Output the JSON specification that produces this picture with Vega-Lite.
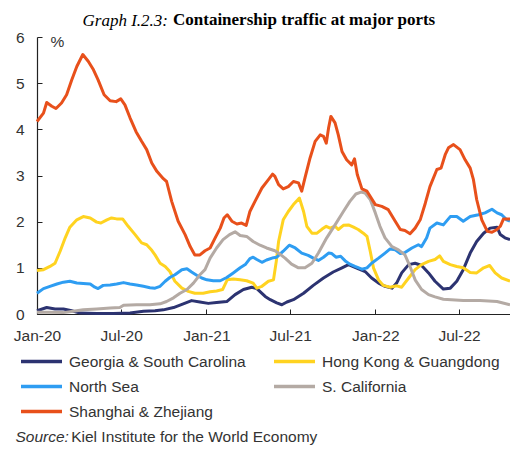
{
  "$schema": "https://vega.github.io/schema/vega-lite/v6.json",
  "width": 473,
  "height": 277,
  "autosize": {"type": "none"},
  "padding": {"left": 37, "top": 37, "right": 0, "bottom": 135},
  "background": "white",
  "config": {"view": {"stroke": null}, "axis": {"grid": false}},
  "title": {"text": "Containership traffic at major ports", "font": "Liberation Serif", "fontSize": 17, "fontWeight": "bold", "color": "#000000", "anchor": "start", "frame": "group", "dx": 136, "dy": 22},
  "datasets": {
    "ports": [
      {"date":"2020-01-01","port":"Georgia & South Carolina","value":0.07},
      {"date":"2020-01-22","port":"Georgia & South Carolina","value":0.14},
      {"date":"2020-02-09","port":"Georgia & South Carolina","value":0.11},
      {"date":"2020-02-27","port":"Georgia & South Carolina","value":0.11},
      {"date":"2020-03-16","port":"Georgia & South Carolina","value":0.07},
      {"date":"2020-04-03","port":"Georgia & South Carolina","value":0.02},
      {"date":"2020-05-09","port":"Georgia & South Carolina","value":0.01},
      {"date":"2020-06-14","port":"Georgia & South Carolina","value":0.01},
      {"date":"2020-07-20","port":"Georgia & South Carolina","value":0.02},
      {"date":"2020-08-18","port":"Georgia & South Carolina","value":0.06},
      {"date":"2020-09-12","port":"Georgia & South Carolina","value":0.07},
      {"date":"2020-09-30","port":"Georgia & South Carolina","value":0.09},
      {"date":"2020-10-22","port":"Georgia & South Carolina","value":0.14},
      {"date":"2020-11-12","port":"Georgia & South Carolina","value":0.22},
      {"date":"2020-11-30","port":"Georgia & South Carolina","value":0.29},
      {"date":"2020-12-18","port":"Georgia & South Carolina","value":0.26},
      {"date":"2021-01-05","port":"Georgia & South Carolina","value":0.23},
      {"date":"2021-01-23","port":"Georgia & South Carolina","value":0.25},
      {"date":"2021-02-14","port":"Georgia & South Carolina","value":0.27},
      {"date":"2021-03-04","port":"Georgia & South Carolina","value":0.42},
      {"date":"2021-03-22","port":"Georgia & South Carolina","value":0.53},
      {"date":"2021-04-09","port":"Georgia & South Carolina","value":0.58},
      {"date":"2021-04-20","port":"Georgia & South Carolina","value":0.55},
      {"date":"2021-05-08","port":"Georgia & South Carolina","value":0.38},
      {"date":"2021-05-19","port":"Georgia & South Carolina","value":0.31},
      {"date":"2021-06-02","port":"Georgia & South Carolina","value":0.24},
      {"date":"2021-06-13","port":"Georgia & South Carolina","value":0.20},
      {"date":"2021-06-24","port":"Georgia & South Carolina","value":0.26},
      {"date":"2021-07-08","port":"Georgia & South Carolina","value":0.31},
      {"date":"2021-07-30","port":"Georgia & South Carolina","value":0.45},
      {"date":"2021-08-20","port":"Georgia & South Carolina","value":0.62},
      {"date":"2021-09-11","port":"Georgia & South Carolina","value":0.78},
      {"date":"2021-10-02","port":"Georgia & South Carolina","value":0.91},
      {"date":"2021-10-21","port":"Georgia & South Carolina","value":1.00},
      {"date":"2021-11-04","port":"Georgia & South Carolina","value":1.07},
      {"date":"2021-11-18","port":"Georgia & South Carolina","value":1.01},
      {"date":"2021-12-10","port":"Georgia & South Carolina","value":0.92},
      {"date":"2021-12-24","port":"Georgia & South Carolina","value":0.78},
      {"date":"2022-01-08","port":"Georgia & South Carolina","value":0.67},
      {"date":"2022-01-22","port":"Georgia & South Carolina","value":0.60},
      {"date":"2022-02-06","port":"Georgia & South Carolina","value":0.56},
      {"date":"2022-02-16","port":"Georgia & South Carolina","value":0.67},
      {"date":"2022-02-27","port":"Georgia & South Carolina","value":0.89},
      {"date":"2022-03-14","port":"Georgia & South Carolina","value":1.07},
      {"date":"2022-03-28","port":"Georgia & South Carolina","value":1.10},
      {"date":"2022-04-11","port":"Georgia & South Carolina","value":1.05},
      {"date":"2022-04-26","port":"Georgia & South Carolina","value":0.89},
      {"date":"2022-05-10","port":"Georgia & South Carolina","value":0.71},
      {"date":"2022-05-28","port":"Georgia & South Carolina","value":0.54},
      {"date":"2022-06-12","port":"Georgia & South Carolina","value":0.56},
      {"date":"2022-06-26","port":"Georgia & South Carolina","value":0.71},
      {"date":"2022-07-10","port":"Georgia & South Carolina","value":0.96},
      {"date":"2022-07-25","port":"Georgia & South Carolina","value":1.32},
      {"date":"2022-08-08","port":"Georgia & South Carolina","value":1.57},
      {"date":"2022-08-23","port":"Georgia & South Carolina","value":1.75},
      {"date":"2022-09-06","port":"Georgia & South Carolina","value":1.86},
      {"date":"2022-09-21","port":"Georgia & South Carolina","value":1.88},
      {"date":"2022-09-28","port":"Georgia & South Carolina","value":1.72},
      {"date":"2022-10-08","port":"Georgia & South Carolina","value":1.65},
      {"date":"2022-10-19","port":"Georgia & South Carolina","value":1.61},

      {"date":"2020-01-01","port":"Hong Kong & Guangdong","value":0.94},
      {"date":"2020-01-15","port":"Hong Kong & Guangdong","value":0.96},
      {"date":"2020-01-29","port":"Hong Kong & Guangdong","value":1.03},
      {"date":"2020-02-09","port":"Hong Kong & Guangdong","value":1.10},
      {"date":"2020-02-20","port":"Hong Kong & Guangdong","value":1.36},
      {"date":"2020-03-02","port":"Hong Kong & Guangdong","value":1.65},
      {"date":"2020-03-12","port":"Hong Kong & Guangdong","value":1.88},
      {"date":"2020-03-27","port":"Hong Kong & Guangdong","value":2.04},
      {"date":"2020-04-10","port":"Hong Kong & Guangdong","value":2.11},
      {"date":"2020-04-25","port":"Hong Kong & Guangdong","value":2.08},
      {"date":"2020-05-09","port":"Hong Kong & Guangdong","value":1.99},
      {"date":"2020-05-18","port":"Hong Kong & Guangdong","value":1.97},
      {"date":"2020-05-31","port":"Hong Kong & Guangdong","value":2.04},
      {"date":"2020-06-10","port":"Hong Kong & Guangdong","value":2.08},
      {"date":"2020-06-21","port":"Hong Kong & Guangdong","value":2.06},
      {"date":"2020-07-04","port":"Hong Kong & Guangdong","value":2.06},
      {"date":"2020-07-16","port":"Hong Kong & Guangdong","value":1.90},
      {"date":"2020-07-31","port":"Hong Kong & Guangdong","value":1.72},
      {"date":"2020-08-14","port":"Hong Kong & Guangdong","value":1.54},
      {"date":"2020-08-25","port":"Hong Kong & Guangdong","value":1.50},
      {"date":"2020-09-05","port":"Hong Kong & Guangdong","value":1.38},
      {"date":"2020-09-12","port":"Hong Kong & Guangdong","value":1.28},
      {"date":"2020-09-23","port":"Hong Kong & Guangdong","value":1.10},
      {"date":"2020-10-04","port":"Hong Kong & Guangdong","value":1.03},
      {"date":"2020-10-14","port":"Hong Kong & Guangdong","value":0.92},
      {"date":"2020-10-25","port":"Hong Kong & Guangdong","value":0.71},
      {"date":"2020-11-09","port":"Hong Kong & Guangdong","value":0.56},
      {"date":"2020-11-23","port":"Hong Kong & Guangdong","value":0.49},
      {"date":"2020-12-07","port":"Hong Kong & Guangdong","value":0.45},
      {"date":"2020-12-25","port":"Hong Kong & Guangdong","value":0.45},
      {"date":"2021-01-09","port":"Hong Kong & Guangdong","value":0.48},
      {"date":"2021-01-23","port":"Hong Kong & Guangdong","value":0.50},
      {"date":"2021-02-05","port":"Hong Kong & Guangdong","value":0.53},
      {"date":"2021-02-15","port":"Hong Kong & Guangdong","value":0.74},
      {"date":"2021-02-28","port":"Hong Kong & Guangdong","value":0.76},
      {"date":"2021-03-15","port":"Hong Kong & Guangdong","value":0.74},
      {"date":"2021-03-29","port":"Hong Kong & Guangdong","value":0.72},
      {"date":"2021-04-12","port":"Hong Kong & Guangdong","value":0.67},
      {"date":"2021-04-20","port":"Hong Kong & Guangdong","value":0.56},
      {"date":"2021-05-01","port":"Hong Kong & Guangdong","value":0.60},
      {"date":"2021-05-15","port":"Hong Kong & Guangdong","value":0.71},
      {"date":"2021-05-26","port":"Hong Kong & Guangdong","value":0.74},
      {"date":"2021-06-01","port":"Hong Kong & Guangdong","value":1.14},
      {"date":"2021-06-06","port":"Hong Kong & Guangdong","value":1.57},
      {"date":"2021-06-16","port":"Hong Kong & Guangdong","value":2.04},
      {"date":"2021-06-27","port":"Hong Kong & Guangdong","value":2.22},
      {"date":"2021-07-08","port":"Hong Kong & Guangdong","value":2.37},
      {"date":"2021-07-21","port":"Hong Kong & Guangdong","value":2.51},
      {"date":"2021-07-30","port":"Hong Kong & Guangdong","value":2.22},
      {"date":"2021-08-06","port":"Hong Kong & Guangdong","value":1.90},
      {"date":"2021-08-17","port":"Hong Kong & Guangdong","value":1.75},
      {"date":"2021-08-28","port":"Hong Kong & Guangdong","value":1.75},
      {"date":"2021-09-08","port":"Hong Kong & Guangdong","value":1.84},
      {"date":"2021-09-17","port":"Hong Kong & Guangdong","value":1.90},
      {"date":"2021-09-25","port":"Hong Kong & Guangdong","value":1.86},
      {"date":"2021-10-06","port":"Hong Kong & Guangdong","value":1.90},
      {"date":"2021-10-13","port":"Hong Kong & Guangdong","value":1.83},
      {"date":"2021-10-24","port":"Hong Kong & Guangdong","value":1.92},
      {"date":"2021-11-04","port":"Hong Kong & Guangdong","value":1.93},
      {"date":"2021-11-15","port":"Hong Kong & Guangdong","value":1.88},
      {"date":"2021-11-25","port":"Hong Kong & Guangdong","value":1.83},
      {"date":"2021-12-06","port":"Hong Kong & Guangdong","value":1.75},
      {"date":"2021-12-14","port":"Hong Kong & Guangdong","value":1.68},
      {"date":"2021-12-21","port":"Hong Kong & Guangdong","value":1.36},
      {"date":"2021-12-28","port":"Hong Kong & Guangdong","value":1.00},
      {"date":"2022-01-08","port":"Hong Kong & Guangdong","value":0.74},
      {"date":"2022-01-18","port":"Hong Kong & Guangdong","value":0.62},
      {"date":"2022-02-02","port":"Hong Kong & Guangdong","value":0.58},
      {"date":"2022-02-16","port":"Hong Kong & Guangdong","value":0.61},
      {"date":"2022-02-27","port":"Hong Kong & Guangdong","value":0.58},
      {"date":"2022-03-14","port":"Hong Kong & Guangdong","value":0.78},
      {"date":"2022-03-28","port":"Hong Kong & Guangdong","value":0.96},
      {"date":"2022-04-11","port":"Hong Kong & Guangdong","value":1.07},
      {"date":"2022-04-26","port":"Hong Kong & Guangdong","value":1.14},
      {"date":"2022-05-10","port":"Hong Kong & Guangdong","value":1.18},
      {"date":"2022-05-20","port":"Hong Kong & Guangdong","value":1.26},
      {"date":"2022-05-28","port":"Hong Kong & Guangdong","value":1.14},
      {"date":"2022-06-12","port":"Hong Kong & Guangdong","value":1.07},
      {"date":"2022-06-26","port":"Hong Kong & Guangdong","value":1.03},
      {"date":"2022-07-10","port":"Hong Kong & Guangdong","value":1.00},
      {"date":"2022-07-25","port":"Hong Kong & Guangdong","value":0.90},
      {"date":"2022-08-08","port":"Hong Kong & Guangdong","value":0.89},
      {"date":"2022-08-23","port":"Hong Kong & Guangdong","value":1.00},
      {"date":"2022-09-05","port":"Hong Kong & Guangdong","value":1.05},
      {"date":"2022-09-17","port":"Hong Kong & Guangdong","value":0.89},
      {"date":"2022-10-01","port":"Hong Kong & Guangdong","value":0.78},
      {"date":"2022-10-19","port":"Hong Kong & Guangdong","value":0.71},

      {"date":"2020-01-01","port":"North Sea","value":0.45},
      {"date":"2020-01-15","port":"North Sea","value":0.55},
      {"date":"2020-01-29","port":"North Sea","value":0.60},
      {"date":"2020-02-13","port":"North Sea","value":0.65},
      {"date":"2020-02-27","port":"North Sea","value":0.69},
      {"date":"2020-03-12","port":"North Sea","value":0.71},
      {"date":"2020-03-27","port":"North Sea","value":0.67},
      {"date":"2020-04-10","port":"North Sea","value":0.66},
      {"date":"2020-04-25","port":"North Sea","value":0.65},
      {"date":"2020-05-05","port":"North Sea","value":0.58},
      {"date":"2020-05-12","port":"North Sea","value":0.55},
      {"date":"2020-05-23","port":"North Sea","value":0.62},
      {"date":"2020-06-07","port":"North Sea","value":0.63},
      {"date":"2020-06-21","port":"North Sea","value":0.65},
      {"date":"2020-07-06","port":"North Sea","value":0.68},
      {"date":"2020-07-20","port":"North Sea","value":0.65},
      {"date":"2020-08-03","port":"North Sea","value":0.63},
      {"date":"2020-08-18","port":"North Sea","value":0.60},
      {"date":"2020-09-01","port":"North Sea","value":0.57},
      {"date":"2020-09-12","port":"North Sea","value":0.56},
      {"date":"2020-09-23","port":"North Sea","value":0.60},
      {"date":"2020-10-04","port":"North Sea","value":0.71},
      {"date":"2020-10-14","port":"North Sea","value":0.79},
      {"date":"2020-10-25","port":"North Sea","value":0.85},
      {"date":"2020-11-09","port":"North Sea","value":0.96},
      {"date":"2020-11-20","port":"North Sea","value":0.98},
      {"date":"2020-11-30","port":"North Sea","value":0.91},
      {"date":"2020-12-11","port":"North Sea","value":0.84},
      {"date":"2020-12-22","port":"North Sea","value":0.78},
      {"date":"2021-01-02","port":"North Sea","value":0.74},
      {"date":"2021-01-16","port":"North Sea","value":0.72},
      {"date":"2021-01-31","port":"North Sea","value":0.72},
      {"date":"2021-02-14","port":"North Sea","value":0.79},
      {"date":"2021-02-28","port":"North Sea","value":0.89},
      {"date":"2021-03-15","port":"North Sea","value":1.00},
      {"date":"2021-03-26","port":"North Sea","value":1.07},
      {"date":"2021-04-05","port":"North Sea","value":1.20},
      {"date":"2021-04-12","port":"North Sea","value":1.23},
      {"date":"2021-04-20","port":"North Sea","value":1.18},
      {"date":"2021-05-01","port":"North Sea","value":1.12},
      {"date":"2021-05-11","port":"North Sea","value":1.17},
      {"date":"2021-05-26","port":"North Sea","value":1.22},
      {"date":"2021-06-02","port":"North Sea","value":1.23},
      {"date":"2021-06-16","port":"North Sea","value":1.36},
      {"date":"2021-06-29","port":"North Sea","value":1.49},
      {"date":"2021-07-12","port":"North Sea","value":1.43},
      {"date":"2021-07-26","port":"North Sea","value":1.32},
      {"date":"2021-08-09","port":"North Sea","value":1.27},
      {"date":"2021-08-20","port":"North Sea","value":1.21},
      {"date":"2021-08-31","port":"North Sea","value":1.16},
      {"date":"2021-09-11","port":"North Sea","value":1.23},
      {"date":"2021-09-22","port":"North Sea","value":1.32},
      {"date":"2021-09-29","port":"North Sea","value":1.31},
      {"date":"2021-10-08","port":"North Sea","value":1.23},
      {"date":"2021-10-18","port":"North Sea","value":1.25},
      {"date":"2021-10-28","port":"North Sea","value":1.15},
      {"date":"2021-11-07","port":"North Sea","value":1.08},
      {"date":"2021-11-18","port":"North Sea","value":1.03},
      {"date":"2021-12-03","port":"North Sea","value":0.97},
      {"date":"2021-12-14","port":"North Sea","value":1.00},
      {"date":"2021-12-24","port":"North Sea","value":1.10},
      {"date":"2022-01-08","port":"North Sea","value":1.21},
      {"date":"2022-01-22","port":"North Sea","value":1.32},
      {"date":"2022-02-02","port":"North Sea","value":1.41},
      {"date":"2022-02-13","port":"North Sea","value":1.39},
      {"date":"2022-02-24","port":"North Sea","value":1.31},
      {"date":"2022-03-06","port":"North Sea","value":1.33},
      {"date":"2022-03-21","port":"North Sea","value":1.43},
      {"date":"2022-04-04","port":"North Sea","value":1.50},
      {"date":"2022-04-11","port":"North Sea","value":1.46},
      {"date":"2022-04-22","port":"North Sea","value":1.65},
      {"date":"2022-04-29","port":"North Sea","value":1.86},
      {"date":"2022-05-14","port":"North Sea","value":1.97},
      {"date":"2022-05-28","port":"North Sea","value":1.93},
      {"date":"2022-06-12","port":"North Sea","value":2.11},
      {"date":"2022-06-26","port":"North Sea","value":2.11},
      {"date":"2022-07-10","port":"North Sea","value":2.01},
      {"date":"2022-07-25","port":"North Sea","value":2.11},
      {"date":"2022-08-12","port":"North Sea","value":2.15},
      {"date":"2022-08-26","port":"North Sea","value":2.19},
      {"date":"2022-09-10","port":"North Sea","value":2.27},
      {"date":"2022-09-21","port":"North Sea","value":2.19},
      {"date":"2022-10-01","port":"North Sea","value":2.15},
      {"date":"2022-10-12","port":"North Sea","value":2.04},
      {"date":"2022-10-19","port":"North Sea","value":2.01},

      {"date":"2020-01-01","port":"S. California","value":0.04},
      {"date":"2020-01-29","port":"S. California","value":0.04},
      {"date":"2020-02-27","port":"S. California","value":0.03},
      {"date":"2020-03-19","port":"S. California","value":0.06},
      {"date":"2020-04-10","port":"S. California","value":0.09},
      {"date":"2020-05-09","port":"S. California","value":0.11},
      {"date":"2020-06-07","port":"S. California","value":0.13},
      {"date":"2020-06-28","port":"S. California","value":0.14},
      {"date":"2020-07-06","port":"S. California","value":0.19},
      {"date":"2020-08-03","port":"S. California","value":0.20},
      {"date":"2020-09-01","port":"S. California","value":0.20},
      {"date":"2020-09-23","port":"S. California","value":0.22},
      {"date":"2020-10-07","port":"S. California","value":0.27},
      {"date":"2020-10-22","port":"S. California","value":0.35},
      {"date":"2020-11-05","port":"S. California","value":0.45},
      {"date":"2020-11-20","port":"S. California","value":0.53},
      {"date":"2020-12-04","port":"S. California","value":0.67},
      {"date":"2020-12-18","port":"S. California","value":0.85},
      {"date":"2020-12-29","port":"S. California","value":0.96},
      {"date":"2021-01-09","port":"S. California","value":1.21},
      {"date":"2021-01-23","port":"S. California","value":1.43},
      {"date":"2021-02-06","port":"S. California","value":1.61},
      {"date":"2021-02-20","port":"S. California","value":1.72},
      {"date":"2021-03-04","port":"S. California","value":1.78},
      {"date":"2021-03-15","port":"S. California","value":1.70},
      {"date":"2021-03-29","port":"S. California","value":1.68},
      {"date":"2021-04-12","port":"S. California","value":1.57},
      {"date":"2021-04-27","port":"S. California","value":1.49},
      {"date":"2021-05-11","port":"S. California","value":1.43},
      {"date":"2021-05-29","port":"S. California","value":1.37},
      {"date":"2021-06-06","port":"S. California","value":1.32},
      {"date":"2021-06-20","port":"S. California","value":1.21},
      {"date":"2021-07-04","port":"S. California","value":1.08},
      {"date":"2021-07-19","port":"S. California","value":1.00},
      {"date":"2021-08-02","port":"S. California","value":1.00},
      {"date":"2021-08-17","port":"S. California","value":1.10},
      {"date":"2021-08-31","port":"S. California","value":1.32},
      {"date":"2021-09-18","port":"S. California","value":1.65},
      {"date":"2021-10-06","port":"S. California","value":1.93},
      {"date":"2021-10-24","port":"S. California","value":2.22},
      {"date":"2021-11-07","port":"S. California","value":2.44},
      {"date":"2021-11-20","port":"S. California","value":2.60},
      {"date":"2021-12-01","port":"S. California","value":2.64},
      {"date":"2021-12-10","port":"S. California","value":2.62},
      {"date":"2021-12-21","port":"S. California","value":2.48},
      {"date":"2022-01-01","port":"S. California","value":2.19},
      {"date":"2022-01-11","port":"S. California","value":1.90},
      {"date":"2022-01-22","port":"S. California","value":1.65},
      {"date":"2022-02-06","port":"S. California","value":1.46},
      {"date":"2022-02-20","port":"S. California","value":1.39},
      {"date":"2022-03-06","port":"S. California","value":1.28},
      {"date":"2022-03-17","port":"S. California","value":1.03},
      {"date":"2022-03-28","port":"S. California","value":0.74},
      {"date":"2022-04-11","port":"S. California","value":0.53},
      {"date":"2022-04-26","port":"S. California","value":0.42},
      {"date":"2022-05-10","port":"S. California","value":0.37},
      {"date":"2022-05-28","port":"S. California","value":0.32},
      {"date":"2022-07-10","port":"S. California","value":0.29},
      {"date":"2022-08-15","port":"S. California","value":0.29},
      {"date":"2022-09-21","port":"S. California","value":0.27},
      {"date":"2022-10-19","port":"S. California","value":0.20},

      {"date":"2020-01-01","port":"Shanghai & Zhejiang","value":4.17},
      {"date":"2020-01-15","port":"Shanghai & Zhejiang","value":4.35},
      {"date":"2020-01-22","port":"Shanghai & Zhejiang","value":4.58},
      {"date":"2020-02-02","port":"Shanghai & Zhejiang","value":4.50},
      {"date":"2020-02-11","port":"Shanghai & Zhejiang","value":4.45},
      {"date":"2020-02-23","port":"Shanghai & Zhejiang","value":4.57},
      {"date":"2020-03-05","port":"Shanghai & Zhejiang","value":4.75},
      {"date":"2020-03-16","port":"Shanghai & Zhejiang","value":5.07},
      {"date":"2020-03-27","port":"Shanghai & Zhejiang","value":5.36},
      {"date":"2020-04-09","port":"Shanghai & Zhejiang","value":5.62},
      {"date":"2020-04-21","port":"Shanghai & Zhejiang","value":5.47},
      {"date":"2020-05-02","port":"Shanghai & Zhejiang","value":5.29},
      {"date":"2020-05-12","port":"Shanghai & Zhejiang","value":5.07},
      {"date":"2020-05-25","port":"Shanghai & Zhejiang","value":4.75},
      {"date":"2020-06-07","port":"Shanghai & Zhejiang","value":4.62},
      {"date":"2020-06-20","port":"Shanghai & Zhejiang","value":4.60},
      {"date":"2020-06-30","port":"Shanghai & Zhejiang","value":4.66},
      {"date":"2020-07-09","port":"Shanghai & Zhejiang","value":4.53},
      {"date":"2020-07-20","port":"Shanghai & Zhejiang","value":4.25},
      {"date":"2020-08-02","port":"Shanghai & Zhejiang","value":3.95},
      {"date":"2020-08-14","port":"Shanghai & Zhejiang","value":3.74},
      {"date":"2020-08-25","port":"Shanghai & Zhejiang","value":3.56},
      {"date":"2020-09-05","port":"Shanghai & Zhejiang","value":3.27},
      {"date":"2020-09-16","port":"Shanghai & Zhejiang","value":3.09},
      {"date":"2020-09-30","port":"Shanghai & Zhejiang","value":2.93},
      {"date":"2020-10-07","port":"Shanghai & Zhejiang","value":2.87},
      {"date":"2020-10-18","port":"Shanghai & Zhejiang","value":2.44},
      {"date":"2020-11-01","port":"Shanghai & Zhejiang","value":2.01},
      {"date":"2020-11-16","port":"Shanghai & Zhejiang","value":1.72},
      {"date":"2020-11-27","port":"Shanghai & Zhejiang","value":1.46},
      {"date":"2020-12-07","port":"Shanghai & Zhejiang","value":1.28},
      {"date":"2020-12-18","port":"Shanghai & Zhejiang","value":1.28},
      {"date":"2020-12-29","port":"Shanghai & Zhejiang","value":1.37},
      {"date":"2021-01-09","port":"Shanghai & Zhejiang","value":1.43},
      {"date":"2021-01-20","port":"Shanghai & Zhejiang","value":1.65},
      {"date":"2021-01-31","port":"Shanghai & Zhejiang","value":1.86},
      {"date":"2021-02-08","port":"Shanghai & Zhejiang","value":2.08},
      {"date":"2021-02-15","port":"Shanghai & Zhejiang","value":2.15},
      {"date":"2021-02-25","port":"Shanghai & Zhejiang","value":2.01},
      {"date":"2021-03-08","port":"Shanghai & Zhejiang","value":1.95},
      {"date":"2021-03-18","port":"Shanghai & Zhejiang","value":1.97},
      {"date":"2021-03-28","port":"Shanghai & Zhejiang","value":1.92},
      {"date":"2021-04-05","port":"Shanghai & Zhejiang","value":2.22},
      {"date":"2021-04-16","port":"Shanghai & Zhejiang","value":2.44},
      {"date":"2021-05-01","port":"Shanghai & Zhejiang","value":2.73},
      {"date":"2021-05-15","port":"Shanghai & Zhejiang","value":2.91},
      {"date":"2021-05-24","port":"Shanghai & Zhejiang","value":3.03},
      {"date":"2021-05-29","port":"Shanghai & Zhejiang","value":2.98},
      {"date":"2021-06-06","port":"Shanghai & Zhejiang","value":2.80},
      {"date":"2021-06-16","port":"Shanghai & Zhejiang","value":2.71},
      {"date":"2021-06-27","port":"Shanghai & Zhejiang","value":2.76},
      {"date":"2021-07-08","port":"Shanghai & Zhejiang","value":2.87},
      {"date":"2021-07-19","port":"Shanghai & Zhejiang","value":2.84},
      {"date":"2021-07-26","port":"Shanghai & Zhejiang","value":2.66},
      {"date":"2021-08-02","port":"Shanghai & Zhejiang","value":2.95},
      {"date":"2021-08-13","port":"Shanghai & Zhejiang","value":3.38},
      {"date":"2021-08-24","port":"Shanghai & Zhejiang","value":3.74},
      {"date":"2021-09-04","port":"Shanghai & Zhejiang","value":3.88},
      {"date":"2021-09-11","port":"Shanghai & Zhejiang","value":3.85},
      {"date":"2021-09-17","port":"Shanghai & Zhejiang","value":3.70},
      {"date":"2021-09-22","port":"Shanghai & Zhejiang","value":4.03},
      {"date":"2021-09-27","port":"Shanghai & Zhejiang","value":4.28},
      {"date":"2021-10-06","port":"Shanghai & Zhejiang","value":4.14},
      {"date":"2021-10-13","port":"Shanghai & Zhejiang","value":3.88},
      {"date":"2021-10-21","port":"Shanghai & Zhejiang","value":3.52},
      {"date":"2021-10-31","port":"Shanghai & Zhejiang","value":3.34},
      {"date":"2021-11-11","port":"Shanghai & Zhejiang","value":3.23},
      {"date":"2021-11-17","port":"Shanghai & Zhejiang","value":3.36},
      {"date":"2021-11-23","port":"Shanghai & Zhejiang","value":3.02},
      {"date":"2021-12-03","port":"Shanghai & Zhejiang","value":2.71},
      {"date":"2021-12-14","port":"Shanghai & Zhejiang","value":2.66},
      {"date":"2022-01-01","port":"Shanghai & Zhejiang","value":2.37},
      {"date":"2022-01-15","port":"Shanghai & Zhejiang","value":2.33},
      {"date":"2022-01-29","port":"Shanghai & Zhejiang","value":2.26},
      {"date":"2022-02-13","port":"Shanghai & Zhejiang","value":2.01},
      {"date":"2022-02-24","port":"Shanghai & Zhejiang","value":1.83},
      {"date":"2022-03-06","port":"Shanghai & Zhejiang","value":1.81},
      {"date":"2022-03-17","port":"Shanghai & Zhejiang","value":1.74},
      {"date":"2022-03-28","port":"Shanghai & Zhejiang","value":1.86},
      {"date":"2022-04-08","port":"Shanghai & Zhejiang","value":2.04},
      {"date":"2022-04-19","port":"Shanghai & Zhejiang","value":2.40},
      {"date":"2022-04-29","port":"Shanghai & Zhejiang","value":2.76},
      {"date":"2022-05-14","port":"Shanghai & Zhejiang","value":3.13},
      {"date":"2022-05-23","port":"Shanghai & Zhejiang","value":3.16},
      {"date":"2022-06-01","port":"Shanghai & Zhejiang","value":3.45},
      {"date":"2022-06-08","port":"Shanghai & Zhejiang","value":3.60},
      {"date":"2022-06-19","port":"Shanghai & Zhejiang","value":3.67},
      {"date":"2022-07-03","port":"Shanghai & Zhejiang","value":3.56},
      {"date":"2022-07-14","port":"Shanghai & Zhejiang","value":3.34},
      {"date":"2022-07-25","port":"Shanghai & Zhejiang","value":3.16},
      {"date":"2022-08-01","port":"Shanghai & Zhejiang","value":2.91},
      {"date":"2022-08-08","port":"Shanghai & Zhejiang","value":2.48},
      {"date":"2022-08-19","port":"Shanghai & Zhejiang","value":2.04},
      {"date":"2022-08-31","port":"Shanghai & Zhejiang","value":1.79},
      {"date":"2022-09-10","port":"Shanghai & Zhejiang","value":1.77},
      {"date":"2022-09-21","port":"Shanghai & Zhejiang","value":1.83},
      {"date":"2022-09-28","port":"Shanghai & Zhejiang","value":1.90},
      {"date":"2022-10-05","port":"Shanghai & Zhejiang","value":2.06},
      {"date":"2022-10-19","port":"Shanghai & Zhejiang","value":2.06}
    ]
  },
  "data": {"name": "ports"},
  "layer": [
    {
      "mark": {"type": "line", "strokeWidth": 3, "strokeJoin": "round", "strokeCap": "butt"},
      "encoding": {
        "x": {
          "field": "date", "type": "temporal",
          "scale": {"type": "utc", "domain": [{"year": 2020, "month": 1, "date": 1, "utc": true}, {"year": 2022, "month": 10, "date": 19, "utc": true}]},
          "axis": {
            "orient": "bottom",
            "values": [
              {"year": 2020, "month": 1, "date": 1, "utc": true},
              {"year": 2020, "month": 7, "date": 1, "utc": true},
              {"year": 2021, "month": 1, "date": 1, "utc": true},
              {"year": 2021, "month": 7, "date": 1, "utc": true},
              {"year": 2022, "month": 1, "date": 1, "utc": true},
              {"year": 2022, "month": 7, "date": 1, "utc": true}
            ],
            "format": "%b-%y",
            "labelFont": "Liberation Sans", "labelFontSize": 15.5, "labelColor": "#333333",
            "labelPadding": 19, "labelFlush": false, "labelOverlap": false,
            "tickSize": -5, "tickColor": "#222222", "tickWidth": 1,
            "domainColor": "#222222", "domainWidth": 1.2,
            "title": "Source:", "titleFont": "Liberation Sans", "titleFontSize": 15.5, "titleFontStyle": "italic", "titleFontWeight": "normal", "titleColor": "#333333",
            "titleAlign": "left", "titleAnchor": null, "titleBaseline": "alphabetic", "titleX": -22, "titleY": 127.5
          }
        },
        "y": {
          "field": "value", "type": "quantitative",
          "scale": {"domain": [0, 6], "nice": false, "zero": true},
          "axis": {
            "orient": "left",
            "values": [0, 1, 2, 3, 4, 5, 6],
            "labelFont": "Liberation Sans", "labelFontSize": 15.5, "labelColor": "#333333",
            "labelPadding": 18,
            "tickSize": -5, "tickColor": "#222222", "tickWidth": 1,
            "domainColor": "#222222", "domainWidth": 1.2,
            "title": "%", "titleFont": "Liberation Sans", "titleFontSize": 15.5, "titleFontWeight": "normal", "titleColor": "#333333",
            "titleAngle": 0, "titleAlign": "left", "titleBaseline": "middle", "titleX": 13, "titleY": 4
          }
        },
        "color": {
          "field": "port", "type": "nominal",
          "scale": {
            "domain": ["Georgia & South Carolina", "Hong Kong & Guangdong", "North Sea", "S. California", "Shanghai & Zhejiang"],
            "range": ["#2C3371", "#FFD320", "#2E9DF2", "#B4AAA4", "#E8501B"]
          },
          "legend": {
            "title": null, "orient": "none", "legendX": -18, "legendY": 316,
            "columns": 2, "direction": "horizontal",
            "symbolType": "stroke", "symbolSize": 1681, "symbolStrokeWidth": 3.5,
            "labelFont": "Liberation Sans", "labelFontSize": 15.5, "labelColor": "#333333", "labelLimit": 260,
            "labelOffset": 5, "rowPadding": 8, "columnPadding": 26, "padding": 0, "clipHeight": 17
          }
        }
      }
    },
    {
      "mark": {"type": "point", "opacity": 0},
      "encoding": {
        "x": {
          "field": "date", "type": "temporal",
          "scale": {"type": "utc", "domain": [{"year": 2020, "month": 1, "date": 1, "utc": true}, {"year": 2022, "month": 10, "date": 19, "utc": true}]},
          "axis": {
            "orient": "bottom", "labels": false, "ticks": false, "domain": false,
            "title": "Kiel Institute for the World Economy", "titleFont": "Liberation Sans", "titleFontSize": 15.5, "titleFontWeight": "normal", "titleColor": "#333333",
            "titleAlign": "left", "titleBaseline": "alphabetic", "titleX": 33.7, "titleY": 127.5
          }
        },
        "y": {
          "field": "value", "type": "quantitative",
          "scale": {"domain": [0, 6], "nice": false, "zero": true},
          "axis": {
            "orient": "left", "labels": false, "ticks": false, "domain": false,
            "title": "Graph I.2.3:", "titleFont": "Liberation Serif", "titleFontSize": 17, "titleFontStyle": "italic", "titleFontWeight": "normal", "titleColor": "#000000",
            "titleAngle": 0, "titleAlign": "left", "titleBaseline": "alphabetic", "titleX": 45, "titleY": -12
          }
        }
      }
    }
  ],
  "resolve": {"axis": {"x": "independent", "y": "independent"}}
}
